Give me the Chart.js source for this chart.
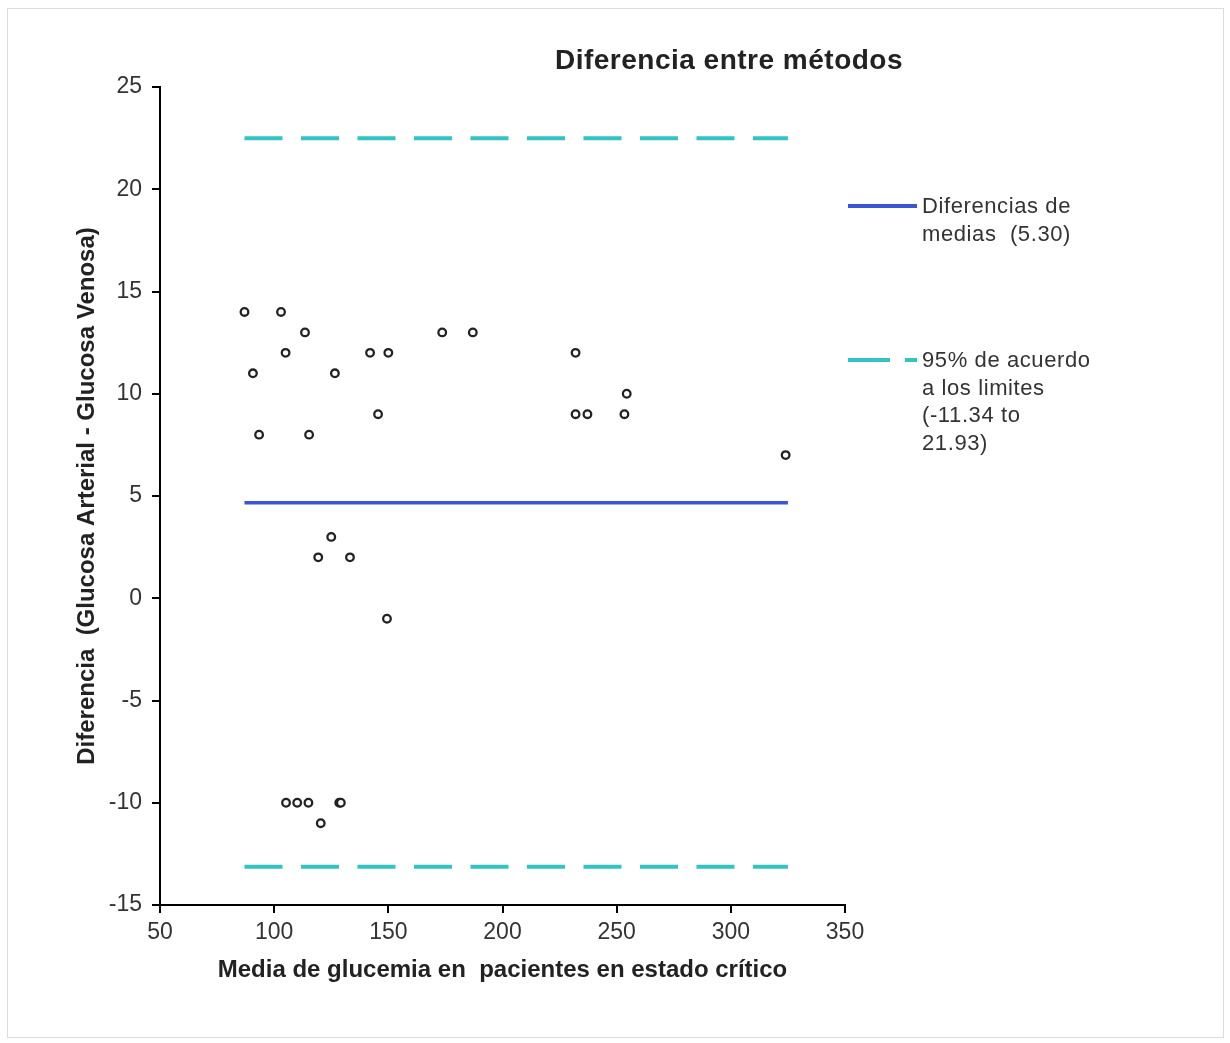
<!DOCTYPE html>
<html lang="es">
<head>
    <meta charset="UTF-8">
    <title>Diferencia entre métodos</title>
    <script src="https://cdn.jsdelivr.net/npm/chart.js"></script>
    <style>
        body { margin: 0; background: #fff; font-family: "Liberation Sans", Arial, sans-serif; color: #333; }
        #wrap { position: relative; width: 1230px; height: 1043px; }
        #frame { position: absolute; left: 7px; top: 8px; width: 1217px; height: 1030px; border: 1px solid #dcdcdc; box-sizing: border-box; pointer-events: none; }
        #title { position: absolute; left: 479px; width: 500px; top: 43px; line-height: 34px; text-align: center; font-weight: bold; font-size: 28px; letter-spacing: 0.5px; color: #222; }
        .leg { position: absolute; left: 922px; font-size: 22px; letter-spacing: 0.6px; color: #333; white-space: nowrap; }
        .swatch { position: absolute; height: 0; }
    </style>
</head>
<body>
<div id="wrap">
    <canvas id="chart" width="1230" height="1043"></canvas>
    <div id="frame"></div>
    <div id="title">Diferencia entre métodos</div>

    <!-- legend -->
    <div class="swatch" style="left:848px; top:204px; width:69px; border-top:4px solid #3a56d4;"></div>
    <div class="leg" style="top:192px; line-height:28px;">Diferencias de<br>medias&nbsp; (5.30)</div>
    <div class="swatch" style="left:848px; top:358px; width:42px; border-top:4px solid #33c3c3;"></div>
    <div class="swatch" style="left:905px; top:358px; width:12px; border-top:4px solid #33c3c3;"></div>
    <div class="leg" style="top:346px; line-height:27.7px;">95% de acuerdo<br>a los limites<br>(-11.34 to<br>21.93)</div>
</div>

<script>
    // scatter points (media, diferencia)
    const mediaGlucemia = [87, 103, 113.5, 105, 90.7, 126.6, 142, 150, 145.5, 93.4, 115.3, 173.6, 187,
        232, 232, 237.2, 253.4, 254.4, 324, 125, 119.3, 133.2, 149.4,
        105.2, 110.1, 115, 128.5, 129.2, 120.4];
    const diferencia = [14, 14, 13, 12, 11, 11, 12, 12, 9, 8, 8, 13, 13,
        12, 9, 9, 9, 10, 7, 3, 2, 2, -1,
        -10, -10, -10, -10, -10, -11];

    // reference lines
    const lineX = [87, 325];
    const mediaDif = 4.67;
    const limiteSup = 22.49;
    const limiteInf = -13.13;

    const xTicks = [50, 100, 150, 200, 250, 300, 350];
    const yTicks = [-15, -10, -5, 0, 5, 10, 15, 20, 25];

    const pts = mediaGlucemia.map((x, i) => ({ x: x, y: diferencia[i] }));
    const hline = v => lineX.map(x => ({ x: x, y: v }));

    const tickFont = { family: '"Liberation Sans", Arial, sans-serif', size: 23 };
    const titleFont = { family: '"Liberation Sans", Arial, sans-serif', size: 24, weight: 'bold' };

    new Chart(document.getElementById('chart').getContext('2d'), {
        type: 'scatter',
        data: {
            datasets: [
                {
                    label: 'Diferencias de medias',
                    data: hline(mediaDif),
                    showLine: true,
                    borderColor: '#3a56d4',
                    borderWidth: 3.5,
                    pointRadius: 0
                },
                {
                    label: 'Limite superior',
                    data: hline(limiteSup),
                    showLine: true,
                    borderColor: '#33c3c3',
                    borderWidth: 4,
                    borderDash: [38, 18.5],
                    pointRadius: 0
                },
                {
                    label: 'Limite inferior',
                    data: hline(limiteInf),
                    showLine: true,
                    borderColor: '#33c3c3',
                    borderWidth: 4,
                    borderDash: [38, 18.5],
                    pointRadius: 0
                },
                {
                    label: 'Datos',
                    data: pts,
                    pointStyle: 'circle',
                    pointRadius: 3.8,
                    borderColor: '#222',
                    borderWidth: 2.3,
                    backgroundColor: '#fff'
                }
            ]
        },
        options: {
            responsive: false,
            animation: false,
            layout: { padding: { left: 72.6, top: 87, right: 385, bottom: 58.6 } },
            plugins: {
                legend: { display: false },
                tooltip: { enabled: false }
            },
            scales: {
                x: {
                    type: 'linear',
                    min: 50,
                    max: 350,
                    afterBuildTicks: s => { s.ticks = xTicks.map(v => ({ value: v })); },
                    afterFit: s => { s.height = 79.4; },
                    grid: { drawOnChartArea: false, drawTicks: true, tickLength: 8, color: '#000', lineWidth: 2 },
                    border: { display: true, color: '#000', width: 2 },
                    ticks: { color: '#333', font: tickFont, padding: 6, maxRotation: 0 },
                    title: {
                        display: true,
                        text: 'Media de glucemia en  pacientes en estado crítico',
                        color: '#222',
                        font: titleFont,
                        padding: { top: 0, bottom: 0 }
                    }
                },
                y: {
                    type: 'linear',
                    min: -15,
                    max: 25,
                    afterBuildTicks: s => { s.ticks = yTicks.map(v => ({ value: v })); },
                    afterFit: s => { s.width = 87.4; },
                    grid: { drawOnChartArea: false, drawTicks: true, tickLength: 8, color: '#000', lineWidth: 2 },
                    border: { display: true, color: '#000', width: 2 },
                    ticks: { color: '#333', font: tickFont, padding: 10 },
                    title: {
                        display: true,
                        text: 'Diferencia  (Glucosa Arterial - Glucosa Venosa)',
                        color: '#222',
                        font: titleFont,
                        padding: { top: 0, bottom: 0 }
                    }
                }
            }
        }
    });
</script>
</body>
</html>
